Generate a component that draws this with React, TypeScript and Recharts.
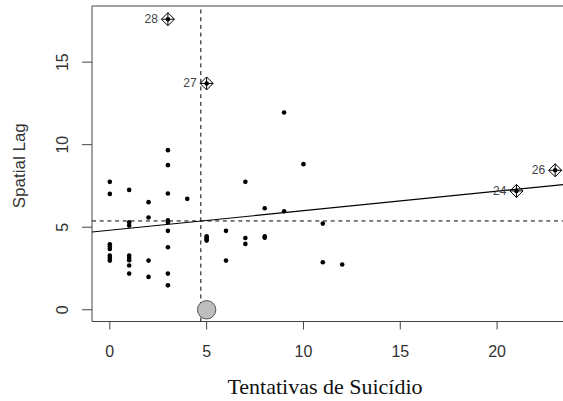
import {
  ScatterChart,
  Scatter,
  XAxis,
  YAxis,
  ReferenceLine,
  ReferenceArea,
} from "recharts";

// regular municipalities: x = suicide attempts, y = spatial lag
const attempts = [
  0, 0, 0, 0, 0, 0, 0, 0,
  1, 1, 1, 1, 1, 1, 1, 1,
  2, 2, 2, 2,
  3, 3, 3, 3, 3, 3, 3, 3, 3,
  4,
  5, 5, 5, 5,
  6, 6,
  7, 7, 7,
  8, 8, 8,
  9, 9,
  10,
  11, 11,
  12,
];
const spatialLag = [
  7.75, 7.02, 3.97, 3.83, 3.68, 3.28, 3.14, 2.98,
  7.26, 5.3, 5.1, 3.28, 3.13, 3.0, 2.68, 2.19,
  6.52, 5.59, 2.98, 1.99,
  9.67, 8.76, 7.04, 5.42, 5.3, 4.78, 3.79, 2.19, 1.48,
  6.72,
  4.45, 4.37, 4.27, 4.19,
  4.78, 2.98,
  7.75, 4.35, 3.99,
  6.15, 4.45, 4.37,
  11.95, 5.97,
  8.82,
  5.22, 2.88,
  2.74,
];

// influential points (labelled)
const influentialIds = ["24", "26", "27", "28"];
const influentialX = [21, 23, 5, 3];
const influentialY = [7.2, 8.45, 13.71, 17.6];

// highlighted point
const highlightX = [5];
const highlightY = [0];

const xDomain = [-0.92, 23.92];
const yDomain = [-0.71, 18.4];
const xTicks = [0, 5, 10, 15, 20];
const yTicks = [0, 5, 10, 15];

const meanX = 4.7;
const meanY = 5.38;
const intercept = 4.82;
const slope = 0.118;

const points = attempts.map((x, i) => ({ x, y: spatialLag[i] }));
const influential = influentialX.map((x, i) => ({
  x,
  y: influentialY[i],
  id: influentialIds[i],
}));
const highlight = highlightX.map((x, i) => ({ x, y: highlightY[i] }));

const sans = "'Liberation Sans', Arial, sans-serif";

const Dot = (props: any) => {
  const { cx, cy } = props;
  return <circle cx={cx} cy={cy} r={2.3} fill="#000" />;
};

const DiamondPlus = (props: any) => {
  const { cx, cy, payload } = props;
  const d = 6.5;
  return (
    <g>
      <circle cx={cx} cy={cy} r={2.3} fill="#000" />
      <path
        d={`M${cx},${cy - d}L${cx + d},${cy}L${cx},${cy + d}L${cx - d},${cy}Z`}
        fill="none"
        stroke="#000"
        strokeWidth={1}
      />
      <path
        d={`M${cx - d},${cy}L${cx + d},${cy}M${cx},${cy - d}L${cx},${cy + d}`}
        stroke="#000"
        strokeWidth={1}
      />
      <text
        x={cx - 10}
        y={cy + 4}
        textAnchor="end"
        fontSize={12}
        fontFamily={sans}
        fill="#444"
      >
        {payload.id}
      </text>
    </g>
  );
};

const BigCircle = (props: any) => {
  const { cx, cy } = props;
  return (
    <circle cx={cx} cy={cy} r={9.2} fill="#bdbdbd" stroke="#555" strokeWidth={1} />
  );
};

const YTick = (props: any) => {
  const { x, y, payload } = props;
  return (
    <text
      x={x}
      y={y}
      transform={`rotate(-90, ${x}, ${y})`}
      textAnchor="middle"
      fontSize={16}
      fontFamily={sans}
      fill="#333"
    >
      {payload.value}
    </text>
  );
};

export default function App() {
  return (
    <div
      style={{
        position: "absolute",
        left: 0,
        top: 0,
        width: 563,
        height: 401,
        overflow: "hidden",
        background: "#fff",
      }}
    >
      <ScatterChart
        width={600}
        height={401}
        margin={{ top: 6, right: 27, bottom: 0, left: 0 }}
      >
        <XAxis
          type="number"
          dataKey="x"
          domain={xDomain}
          ticks={xTicks}
          allowDataOverflow
          axisLine={false}
          tickSize={8}
          tickMargin={16.5}
          tickLine={{ stroke: "#444" }}
          tick={{ fontSize: 16, fontFamily: sans, fill: "#333" }}
          height={79.5}
          label={{
            content: (p: any) => {
              const vb = p.viewBox || { x: 92, width: 481 };
              const cx = vb.x + vb.width / 2 - 7.5;
              return (
                <text
                  x={cx}
                  y={394}
                  textAnchor="middle"
                  fontSize={22}
                  fontFamily="'Liberation Serif', 'Times New Roman', serif"
                  fill="#111"
                >
                  Tentativas de Suicídio
                </text>
              );
            },
          }}
        />
        <YAxis
          type="number"
          dataKey="y"
          domain={yDomain}
          ticks={yTicks}
          allowDataOverflow
          axisLine={false}
          width={92}
          tickSize={10}
          tickMargin={14}
          tickLine={{ stroke: "#444" }}
          tick={<YTick />}
          label={{
            content: (p: any) => {
              const vb = p.viewBox || { y: 6, height: 315.5 };
              const cy = vb.y + vb.height / 2 + 2;
              return (
                <text
                  x={25}
                  y={cy}
                  transform={`rotate(-90, 25, ${cy})`}
                  textAnchor="middle"
                  fontSize={17}
                  fontFamily={sans}
                  fill="#333"
                >
                  Spatial Lag
                </text>
              );
            },
          }}
        />
        <ReferenceArea
          x1={xDomain[0]}
          x2={xDomain[1]}
          y1={yDomain[0]}
          y2={yDomain[1]}
          fill="none"
          fillOpacity={0}
          stroke="#444"
          strokeWidth={1}
        />
        <ReferenceLine
          x={meanX}
          stroke="#000"
          strokeWidth={1}
          strokeDasharray="4 3.7"
        />
        <ReferenceLine
          y={meanY}
          stroke="#000"
          strokeWidth={1}
          strokeDasharray="4 3.7"
        />
        <ReferenceLine
          segment={[
            { x: xDomain[0], y: intercept + slope * xDomain[0] },
            { x: xDomain[1], y: intercept + slope * xDomain[1] },
          ]}
          stroke="#000"
          strokeWidth={1.2}
        />
        <Scatter data={points} shape={<Dot />} isAnimationActive={false} />
        <Scatter
          data={influential}
          shape={<DiamondPlus />}
          isAnimationActive={false}
        />
        <Scatter
          data={highlight}
          shape={<BigCircle />}
          isAnimationActive={false}
        />
      </ScatterChart>
    </div>
  );
}
